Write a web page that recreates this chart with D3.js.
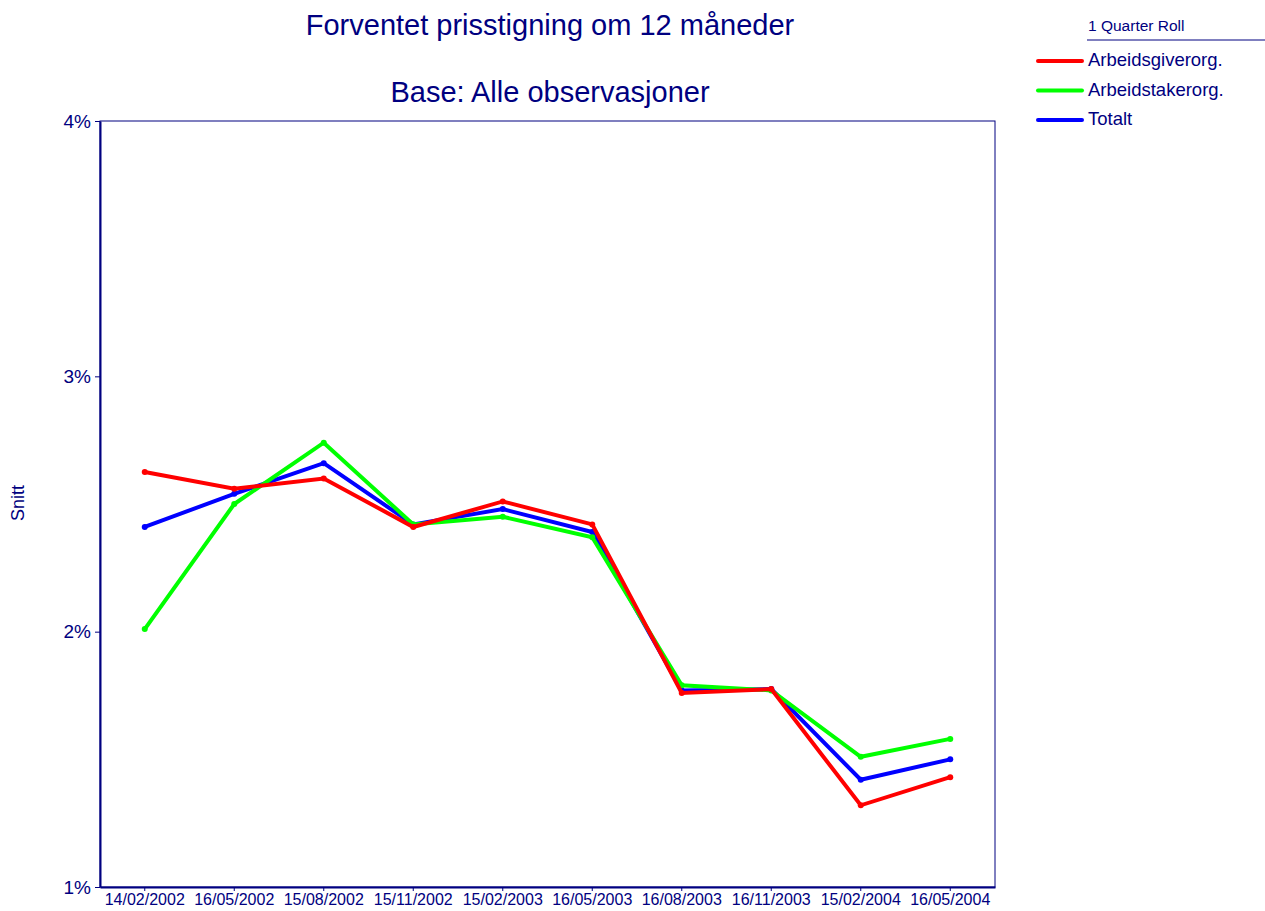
<!DOCTYPE html>
<html>
<head>
<meta charset="utf-8">
<script src="https://cdn.jsdelivr.net/npm/d3@7"></script>
<style>
  body { margin: 0; background: #fff; }
  text { font-family: "Liberation Sans", Arial, sans-serif; fill: #000080; }
</style>
</head>
<body>
<div id="chart"></div>
<script>
// data
const dates = ["14/02/2002", "16/05/2002", "15/08/2002", "15/11/2002", "15/02/2003",
  "16/05/2003", "16/08/2003", "16/11/2003", "15/02/2004", "16/05/2004"];
const arbeidsgiver = [2.625, 2.56, 2.60, 2.41, 2.51, 2.42, 1.76, 1.775, 1.32, 1.43];
const arbeidstaker = [2.01, 2.50, 2.74, 2.42, 2.45, 2.37, 1.79, 1.77, 1.51, 1.58];
const totalt = [2.41, 2.54, 2.66, 2.42, 2.48, 2.39, 1.77, 1.775, 1.42, 1.50];
const yTicks = [1, 2, 3, 4];

const series = [
  { name: "Arbeidsgiverorg.", values: arbeidsgiver, color: "#ff0000" },
  { name: "Arbeidstakerorg.", values: arbeidstaker, color: "#00ff00" },
  { name: "Totalt", values: totalt, color: "#0000ff" }
];
// drawing order: blue under red/green as in the picture
const drawOrder = [series[2], series[1], series[0]];

const width = 1265, height = 911;
const margin = { top: 121, right: 270, bottom: 24, left: 100 };
const navy = "#000080";

const svg = d3.select("#chart").append("svg")
  .attr("width", width)
  .attr("height", height);

const x = d3.scaleBand()
  .domain(dates)
  .range([margin.left, width - margin.right]);

const y = d3.scaleLinear()
  .domain([1, 4])
  .range([height - margin.bottom, margin.top]);

// plot frame
svg.append("rect")
  .attr("x", margin.left)
  .attr("y", margin.top)
  .attr("width", width - margin.right - margin.left)
  .attr("height", height - margin.bottom - margin.top)
  .attr("fill", "none")
  .attr("stroke", navy)
  .attr("stroke-width", 1);

// x axis
const xAxis = svg.append("g")
  .attr("transform", `translate(0,${height - margin.bottom})`)
  .call(d3.axisBottom(x).tickSize(4).tickSizeOuter(0).tickPadding(3));
xAxis.select(".domain").attr("stroke", navy).attr("stroke-width", 2);
xAxis.selectAll(".tick line").attr("stroke", navy);
xAxis.selectAll(".tick text")
  .style("font-size", "16px")
  .attr("fill", navy);

// y axis
const yAxis = svg.append("g")
  .attr("transform", `translate(${margin.left},0)`)
  .call(d3.axisLeft(y).tickValues(yTicks).tickFormat(d => d + "%").tickSize(5).tickSizeOuter(0).tickPadding(4));
yAxis.select(".domain").attr("stroke", navy).attr("stroke-width", 2);
yAxis.selectAll(".tick line").attr("stroke", navy);
yAxis.selectAll(".tick text")
  .style("font-size", "19px")
  .attr("fill", navy);

// y label
svg.append("text")
  .attr("transform", "translate(24,503) rotate(-90)")
  .attr("text-anchor", "middle")
  .style("font-size", "18px")
  .text("Snitt");

// titles
svg.append("text")
  .attr("x", 550).attr("y", 35)
  .attr("text-anchor", "middle")
  .style("font-size", "29px")
  .text("Forventet prisstigning om 12 måneder");
svg.append("text")
  .attr("x", 550).attr("y", 102)
  .attr("text-anchor", "middle")
  .style("font-size", "29px")
  .text("Base: Alle observasjoner");

// lines
const line = d3.line()
  .x((d, i) => x(dates[i]) + x.bandwidth() / 2)
  .y(d => y(d));

const lines = svg.append("g");
drawOrder.forEach(s => {
  lines.append("path")
    .datum(s.values)
    .attr("d", line)
    .attr("fill", "none")
    .attr("stroke", s.color)
    .attr("stroke-width", 4)
    .attr("stroke-linejoin", "miter");
  lines.selectAll(null)
    .data(s.values)
    .enter()
    .append("circle")
    .attr("cx", (d, i) => x(dates[i]) + x.bandwidth() / 2)
    .attr("cy", d => y(d))
    .attr("r", 3)
    .attr("fill", s.color);
});

// legend
const legend = svg.append("g");
legend.append("text")
  .attr("x", 1088).attr("y", 31)
  .style("font-size", "15.5px")
  .text("1 Quarter Roll");
legend.append("line")
  .attr("x1", 1087).attr("x2", 1265)
  .attr("y1", 40).attr("y2", 40)
  .attr("stroke", navy)
  .attr("stroke-width", 1);

series.forEach((s, i) => {
  const ly = 61 + i * 29.5;
  legend.append("line")
    .attr("x1", 1038).attr("x2", 1082)
    .attr("y1", ly).attr("y2", ly)
    .attr("stroke", s.color)
    .attr("stroke-width", 4)
    .attr("stroke-linecap", "round");
  legend.append("text")
    .attr("x", 1088).attr("y", ly + 5)
    .style("font-size", "18.5px")
    .text(s.name);
});
</script>
</body>
</html>
